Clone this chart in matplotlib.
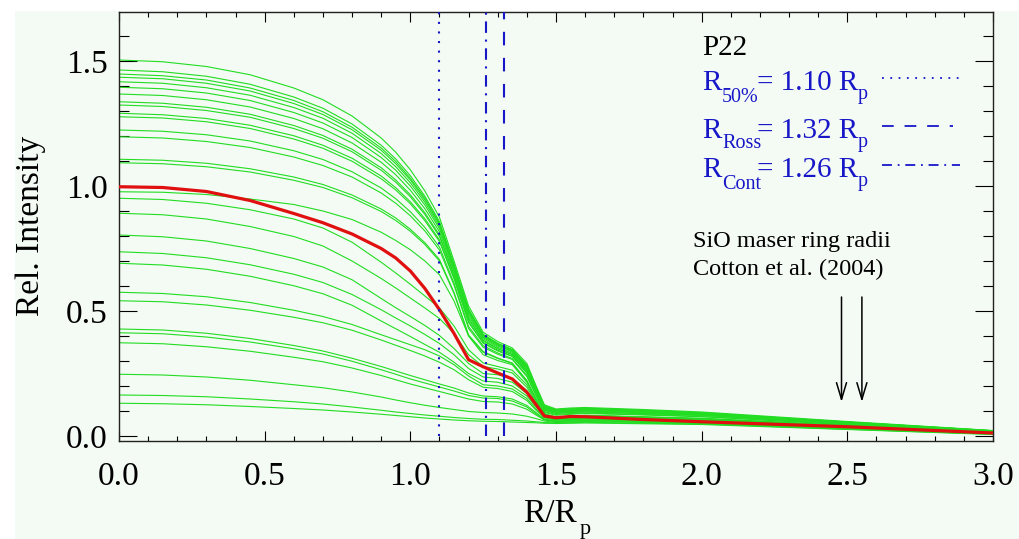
import matplotlib
matplotlib.use('Agg')
import matplotlib.pyplot as plt
from matplotlib.patches import Rectangle
from matplotlib.ticker import MultipleLocator, FormatStrFormatter

plt.rcParams['font.family'] = 'Liberation Serif'

W, H = 1019, 539

# radial grid (R/Rp) shared by all intensity profiles
r = [0.0, 0.15, 0.3, 0.45, 0.6, 0.7, 0.8, 0.9, 0.95, 1.0, 1.05, 1.1, 1.15, 1.2, 1.25,
     1.3, 1.35, 1.4, 1.43, 1.46, 1.5, 1.55, 1.6, 1.8, 2.0, 2.5, 3.0]

# monochromatic intensity profiles across the band
green_profiles = [
    [1.504, 1.497, 1.478, 1.445, 1.392, 1.345, 1.280, 1.192, 1.135, 1.065, 0.980, 0.875, 0.700, 0.520, 0.415, 0.378, 0.352, 0.290, 0.205, 0.125, 0.108, 0.112, 0.114, 0.106, 0.096, 0.058, 0.022],
    [1.464, 1.457, 1.439, 1.407, 1.356, 1.311, 1.248, 1.163, 1.108, 1.041, 0.959, 0.858, 0.687, 0.508, 0.407, 0.371, 0.346, 0.283, 0.200, 0.121, 0.105, 0.109, 0.111, 0.103, 0.093, 0.056, 0.021],
    [1.448, 1.441, 1.424, 1.392, 1.342, 1.297, 1.235, 1.152, 1.098, 1.031, 0.951, 0.851, 0.682, 0.504, 0.404, 0.369, 0.344, 0.280, 0.198, 0.120, 0.104, 0.108, 0.110, 0.102, 0.092, 0.056, 0.021],
    [1.435, 1.429, 1.411, 1.380, 1.330, 1.286, 1.225, 1.143, 1.089, 1.024, 0.944, 0.846, 0.678, 0.500, 0.402, 0.367, 0.342, 0.278, 0.196, 0.118, 0.102, 0.106, 0.109, 0.101, 0.092, 0.055, 0.021],
    [1.417, 1.411, 1.393, 1.363, 1.314, 1.271, 1.211, 1.130, 1.077, 1.013, 0.935, 0.838, 0.672, 0.495, 0.398, 0.364, 0.339, 0.275, 0.193, 0.117, 0.101, 0.105, 0.107, 0.100, 0.090, 0.054, 0.020],
    [1.395, 1.389, 1.372, 1.342, 1.294, 1.252, 1.194, 1.114, 1.063, 1.000, 0.924, 0.829, 0.666, 0.488, 0.394, 0.360, 0.336, 0.271, 0.190, 0.114, 0.099, 0.103, 0.106, 0.098, 0.089, 0.053, 0.020],
    [1.368, 1.362, 1.345, 1.316, 1.270, 1.229, 1.172, 1.095, 1.045, 0.983, 0.909, 0.817, 0.657, 0.480, 0.389, 0.355, 0.331, 0.267, 0.187, 0.112, 0.097, 0.101, 0.103, 0.096, 0.087, 0.052, 0.019],
    [1.337, 1.331, 1.315, 1.287, 1.242, 1.202, 1.147, 1.073, 1.024, 0.965, 0.893, 0.804, 0.647, 0.471, 0.383, 0.350, 0.327, 0.262, 0.183, 0.109, 0.095, 0.099, 0.101, 0.094, 0.085, 0.051, 0.019],
    [1.324, 1.318, 1.302, 1.275, 1.230, 1.191, 1.137, 1.063, 1.015, 0.957, 0.886, 0.798, 0.643, 0.467, 0.380, 0.348, 0.325, 0.259, 0.181, 0.107, 0.094, 0.098, 0.100, 0.093, 0.085, 0.051, 0.018],
    [1.291, 1.285, 1.270, 1.243, 1.201, 1.163, 1.111, 1.040, 0.993, 0.937, 0.869, 0.784, 0.633, 0.458, 0.374, 0.343, 0.320, 0.254, 0.177, 0.104, 0.091, 0.095, 0.097, 0.090, 0.083, 0.049, 0.018],
    [1.277, 1.272, 1.257, 1.230, 1.188, 1.151, 1.099, 1.029, 0.984, 0.929, 0.861, 0.778, 0.628, 0.454, 0.371, 0.340, 0.318, 0.251, 0.175, 0.103, 0.090, 0.094, 0.096, 0.089, 0.082, 0.049, 0.018],
    [1.224, 1.219, 1.205, 1.180, 1.141, 1.106, 1.057, 0.992, 0.949, 0.897, 0.834, 0.756, 0.611, 0.438, 0.361, 0.332, 0.310, 0.242, 0.168, 0.098, 0.086, 0.090, 0.092, 0.086, 0.078, 0.046, 0.017],
    [1.197, 1.192, 1.178, 1.154, 1.116, 1.082, 1.036, 0.972, 0.931, 0.881, 0.820, 0.744, 0.603, 0.430, 0.355, 0.327, 0.306, 0.238, 0.164, 0.095, 0.083, 0.087, 0.090, 0.084, 0.077, 0.045, 0.016],
    [1.107, 1.103, 1.091, 1.069, 1.036, 1.006, 0.964, 0.908, 0.872, 0.827, 0.773, 0.706, 0.574, 0.404, 0.338, 0.312, 0.292, 0.222, 0.152, 0.086, 0.076, 0.080, 0.083, 0.077, 0.071, 0.042, 0.014],
    [1.093, 1.089, 1.077, 1.056, 1.023, 0.994, 0.953, 0.898, 0.862, 0.819, 0.766, 0.700, 0.570, 0.400, 0.335, 0.310, 0.290, 0.220, 0.150, 0.085, 0.075, 0.079, 0.082, 0.076, 0.070, 0.041, 0.014],
    [0.977, 0.975, 0.966, 0.948, 0.926, 0.900, 0.866, 0.815, 0.782, 0.745, 0.700, 0.645, 0.540, 0.400, 0.325, 0.302, 0.285, 0.215, 0.150, 0.090, 0.076, 0.079, 0.082, 0.075, 0.069, 0.041, 0.013],
    [0.951, 0.946, 0.931, 0.905, 0.868, 0.832, 0.775, 0.695, 0.652, 0.607, 0.560, 0.512, 0.440, 0.345, 0.292, 0.278, 0.263, 0.205, 0.145, 0.088, 0.074, 0.077, 0.080, 0.073, 0.067, 0.040, 0.013],
    [0.891, 0.885, 0.868, 0.838, 0.798, 0.760, 0.700, 0.630, 0.592, 0.552, 0.512, 0.470, 0.410, 0.325, 0.278, 0.268, 0.252, 0.195, 0.138, 0.086, 0.072, 0.075, 0.078, 0.071, 0.066, 0.039, 0.012],
    [0.804, 0.797, 0.780, 0.750, 0.710, 0.676, 0.625, 0.550, 0.513, 0.478, 0.442, 0.402, 0.350, 0.290, 0.250, 0.245, 0.230, 0.182, 0.130, 0.084, 0.071, 0.073, 0.076, 0.069, 0.064, 0.038, 0.012],
    [0.737, 0.730, 0.713, 0.685, 0.647, 0.614, 0.566, 0.505, 0.472, 0.440, 0.406, 0.370, 0.325, 0.270, 0.236, 0.230, 0.215, 0.170, 0.124, 0.081, 0.069, 0.071, 0.074, 0.067, 0.062, 0.036, 0.011],
    [0.691, 0.684, 0.667, 0.639, 0.601, 0.569, 0.523, 0.460, 0.429, 0.398, 0.366, 0.335, 0.295, 0.250, 0.220, 0.215, 0.200, 0.160, 0.118, 0.078, 0.067, 0.069, 0.072, 0.065, 0.060, 0.035, 0.011],
    [0.575, 0.570, 0.557, 0.534, 0.503, 0.478, 0.446, 0.405, 0.385, 0.365, 0.345, 0.320, 0.285, 0.240, 0.205, 0.200, 0.188, 0.150, 0.110, 0.075, 0.065, 0.067, 0.070, 0.063, 0.058, 0.034, 0.010],
    [0.541, 0.537, 0.524, 0.503, 0.475, 0.453, 0.423, 0.384, 0.363, 0.342, 0.320, 0.295, 0.265, 0.225, 0.195, 0.190, 0.178, 0.142, 0.105, 0.073, 0.063, 0.065, 0.068, 0.062, 0.057, 0.033, 0.010],
    [0.428, 0.424, 0.411, 0.390, 0.362, 0.340, 0.311, 0.278, 0.260, 0.242, 0.225, 0.208, 0.192, 0.172, 0.160, 0.157, 0.148, 0.122, 0.095, 0.068, 0.060, 0.062, 0.065, 0.059, 0.055, 0.031, 0.009],
    [0.413, 0.409, 0.396, 0.376, 0.349, 0.328, 0.299, 0.265, 0.247, 0.228, 0.212, 0.196, 0.180, 0.162, 0.152, 0.150, 0.140, 0.116, 0.090, 0.066, 0.058, 0.060, 0.063, 0.058, 0.054, 0.030, 0.009],
    [0.373, 0.369, 0.357, 0.339, 0.315, 0.297, 0.272, 0.242, 0.225, 0.208, 0.193, 0.178, 0.163, 0.148, 0.138, 0.136, 0.128, 0.107, 0.085, 0.064, 0.057, 0.059, 0.061, 0.056, 0.052, 0.029, 0.008],
    [0.247, 0.244, 0.236, 0.223, 0.205, 0.193, 0.176, 0.156, 0.144, 0.133, 0.123, 0.114, 0.106, 0.098, 0.094, 0.092, 0.088, 0.079, 0.070, 0.060, 0.054, 0.056, 0.058, 0.054, 0.050, 0.028, 0.008],
    [0.164, 0.162, 0.157, 0.148, 0.137, 0.128, 0.116, 0.103, 0.096, 0.090, 0.084, 0.079, 0.074, 0.070, 0.067, 0.066, 0.063, 0.060, 0.057, 0.054, 0.052, 0.053, 0.055, 0.051, 0.048, 0.027, 0.007],
    [0.131, 0.129, 0.125, 0.118, 0.110, 0.104, 0.096, 0.087, 0.082, 0.077, 0.072, 0.068, 0.064, 0.061, 0.059, 0.058, 0.056, 0.054, 0.053, 0.051, 0.050, 0.051, 0.052, 0.049, 0.046, 0.026, 0.006],
]

# band-averaged profile
mean_profile = [0.997, 0.994, 0.978, 0.942, 0.890, 0.853, 0.808, 0.750, 0.712, 0.660, 0.590, 0.505, 0.410,
                0.305, 0.277, 0.252, 0.228, 0.175, 0.128, 0.080, 0.073, 0.078, 0.077, 0.066, 0.057, 0.037, 0.012]

# characteristic radii
radius_names = ['50%', 'Ross', 'Cont']
radius_values = [1.10, 1.32, 1.26]
radius_styles = [(0, (1, 3.6)), (0, (6.5, 6.0)), (0, (5.5, 3.2, 1, 3.2))]

# SiO maser ring radii (Cotton et al. 2004)
maser_radii = [2.48, 2.55]
arrow_top, arrow_tip = 0.556, 0.136

mint = '#f4faf4'
blue = '#1717c8'


def px(x, y):
    return x / W, 1 - y / H


fig = plt.figure(figsize=(W / 100, H / 100), dpi=100, facecolor='white')
fig.add_artist(Rectangle((15 / W, 0), 1, 1 - 11 / H, transform=fig.transFigure,
                         facecolor=mint, edgecolor='none', zorder=-10))
ax = fig.add_axes([119 / W, 1 - 441 / H, (993 - 119) / W, (441 - 12) / H])
ax.set_facecolor(mint)

for prof in green_profiles:
    ax.plot(r, prof, color='#22dd22', lw=0.8, zorder=2)
ax.plot(r, mean_profile, color='#e01010', lw=2.3, zorder=3)

for val, ls in zip(radius_values, radius_styles):
    ax.plot([val, val], [0.0, 1.75], color=blue, lw=1.5, linestyle=ls, zorder=4)

for xm in maser_radii:
    ax.annotate('', xy=(xm, arrow_tip), xytext=(xm, arrow_top),
                arrowprops=dict(arrowstyle='->,head_length=0.6,head_width=0.18',
                                color='black', lw=1.1, shrinkA=0, shrinkB=0,
                                mutation_scale=20), zorder=5)

ax.set_xlim(0, 3.0)
ax.set_ylim(-0.02, 1.696)
ax.xaxis.set_major_locator(MultipleLocator(0.5))
ax.xaxis.set_minor_locator(MultipleLocator(0.1))
ax.yaxis.set_major_locator(MultipleLocator(0.5))
ax.yaxis.set_minor_locator(MultipleLocator(0.1))
ax.xaxis.set_major_formatter(FormatStrFormatter('%.1f'))
ax.yaxis.set_major_formatter(FormatStrFormatter('%.1f'))
ax.tick_params(axis='x', which='major', direction='in', length=7, width=0.8,
               top=True, labelsize=24, pad=15)
ax.tick_params(axis='x', which='minor', direction='in', length=3.6, width=0.8, top=True)
ax.tick_params(axis='y', which='major', direction='in', length=13, width=0.8,
               right=True, labelsize=24, pad=8)
ax.tick_params(axis='y', which='minor', direction='in', length=7, width=0.8, right=True)
for sp in ax.spines.values():
    sp.set_linewidth(1.0)
    sp.set_color('#222222')

# axis titles
fig.text(*px(31, 226), 'Rel. Intensity', rotation=90, fontsize=24,
         ha='center', va='center')
fig.text(*px(523, 522), 'R/R', fontsize=24, ha='left', va='baseline')
fig.text(*px(580, 534), 'p', fontsize=16, ha='left', va='baseline')

# legend block
fig.text(*px(702, 55), 'P22', fontsize=21, va='baseline')
rows = [(90, 102), (138, 148), (177, 189)]
for (base, sub), name, val in zip(rows, radius_names, radius_values):
    fig.text(*px(702, base), 'R', fontsize=21, color=blue, va='baseline')
    fig.text(*px(722, sub), name, fontsize=14.5, color=blue, va='baseline')
    fig.text(*px(757, base), '= %.2f R' % val, fontsize=21, color=blue, va='baseline')
    fig.text(*px(858, base + 9), 'p', fontsize=14.5, color=blue, va='baseline')

sample_y = [1.432, 1.240, 1.084]
sample_x1 = [2.897, 2.863, 2.887]
for y, x1, ls in zip(sample_y, sample_x1, radius_styles):
    ax.plot([2.62, x1], [y, y], color=blue, lw=1.3, linestyle=ls, zorder=4)

fig.text(*px(693, 247), 'SiO maser ring radii', fontsize=17.5, va='baseline')
fig.text(*px(693, 275), 'Cotton et al. (2004)', fontsize=17.5, va='baseline')

fig.savefig('out.png', dpi=100, facecolor=fig.get_facecolor())
